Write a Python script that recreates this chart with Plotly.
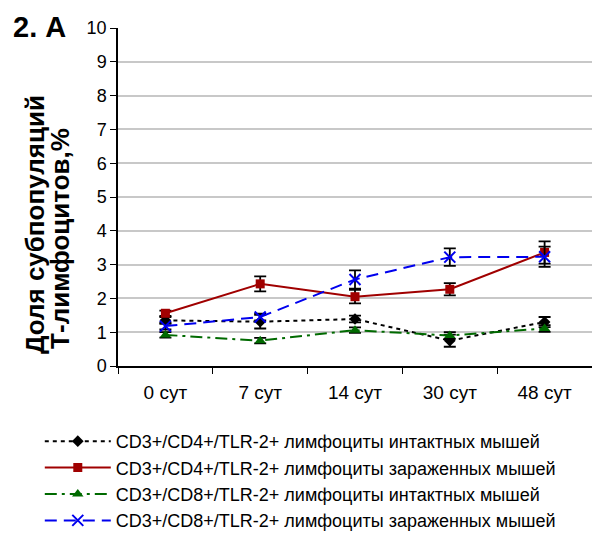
import plotly.graph_objects as go

categories = ["0 сут", "7 сут", "14 сут", "30 сут", "48 сут"]

names = [
    "CD3+/CD4+/TLR-2+ лимфоциты интактных мышей",
    "CD3+/CD4+/TLR-2+ лимфоциты зараженных мышей",
    "CD3+/CD8+/TLR-2+ лимфоциты интактных мышей",
    "CD3+/CD8+/TLR-2+ лимфоциты зараженных мышей",
]

cd4_intact = [1.35, 1.31, 1.39, 0.75, 1.30]
cd4_intact_err = [0.10, 0.20, 0.10, 0.18, 0.15]

cd4_infected = [1.56, 2.43, 2.05, 2.27, 3.36]
cd4_infected_err = [0.08, 0.22, 0.20, 0.18, 0.33]

cd8_intact = [0.92, 0.75, 1.06, 0.90, 1.11]
cd8_intact_err = [0.08, 0.08, 0.08, 0.10, 0.10]

cd8_infected = [1.18, 1.45, 2.56, 3.22, 3.23]
cd8_infected_err = [0.10, 0.10, 0.27, 0.26, 0.30]

y_title_lines = ["Доля субпопуляций", "Т-лимфоцитов,%"]

series = [cd4_intact, cd4_infected, cd8_intact, cd8_infected]
errors = [cd4_intact_err, cd4_infected_err, cd8_intact_err, cd8_infected_err]
colors = ["#000000", "#A00000", "#006A00", "#0000EE"]
dashes = ["4px,4px", "solid", "12px,5px,3px,5px", "12px,7px"]
symbols = ["diamond", "square", "triangle-up", "x-thin-open"]
msizes = [9, 9, 10, 11]

fig = go.Figure()
for name, y, e, c, d, s, ms in zip(names, series, errors, colors, dashes, symbols, msizes):
    mk = dict(color=c, symbol=s, size=ms)
    if s == "x-thin-open":
        mk["line"] = dict(color=c, width=2)
    fig.add_trace(go.Scatter(
        x=categories, y=y, name=name, mode="lines+markers",
        line=dict(color=c, dash=d, width=2),
        marker=mk,
        error_y=dict(type="data", array=e, visible=True, color="#000000", thickness=1.8, width=6),
        cliponaxis=False,
    ))

fig.update_layout(
    width=592, height=539,
    margin=dict(l=118, r=0, t=28, b=173),
    paper_bgcolor="white", plot_bgcolor="white",
    font=dict(family="Liberation Sans, Arial", size=18, color="#000000"),
    showlegend=True,
    legend=dict(
        x=-0.165, y=-0.169, xanchor="left", yanchor="top",
        font=dict(size=18), itemwidth=66, bgcolor="rgba(0,0,0,0)",
    ),
    xaxis=dict(
        type="category", showline=True, linecolor="#000000", linewidth=1.5,
        ticks="outside", tickson="boundaries", ticklen=6, tickcolor="#000000",
        showgrid=False, tickfont=dict(size=19), range=[-0.5, 4.5],
        ticklabelstandoff=8,
    ),
    yaxis=dict(
        range=[0, 10], dtick=1, showline=True, linecolor="#000000", linewidth=1.5,
        ticks="outside", ticklen=6, tickcolor="#000000",
        showgrid=True, gridcolor="#C8C8C8", gridwidth=1.5,
        tickfont=dict(size=18), zeroline=False,
    ),
    annotations=[
        dict(text="<b>2. А</b>", x=-0.1646, y=1.003, xref="paper", yref="paper",
             xanchor="center", yanchor="middle", showarrow=False, font=dict(size=29)),
        dict(text="<b>" + y_title_lines[0] + "</b>", x=-0.175, y=0.417,
             xref="paper", yref="paper", xanchor="center", yanchor="middle",
             textangle=-90, showarrow=False, font=dict(size=26)),
        dict(text="<b>" + y_title_lines[1] + "</b>", x=-0.1224, y=0.379,
             xref="paper", yref="paper", xanchor="center", yanchor="middle",
             textangle=-90, showarrow=False, font=dict(size=26)),
    ],
)

fig.write_html("out.html")
